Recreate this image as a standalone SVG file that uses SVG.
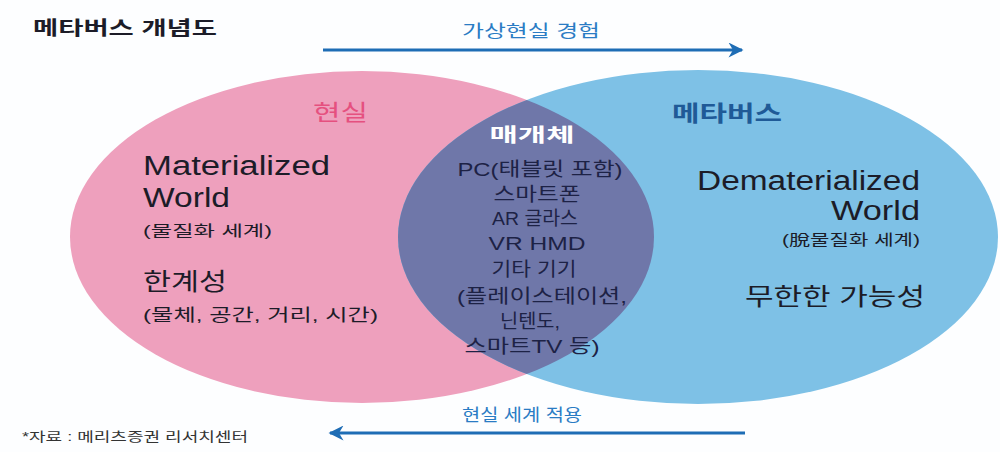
<svg xmlns="http://www.w3.org/2000/svg" width="1000" height="452" viewBox="0 0 1000 452">
<defs>
<style>
text{font-family:"Liberation Sans","Noto Sans CJK KR",sans-serif}
.t{font-weight:bold}
.blue{fill:#2a7cc4}
.dk{fill:#1c1c28}
.nv{fill:#1d2245}
.mid{font-size:19px;text-anchor:middle}
</style>
<marker id="ah" viewBox="0 0 10 10" refX="9" refY="5" markerWidth="7" markerHeight="5" markerUnits="strokeWidth" orient="auto">
<path d="M0,0 L10,5 L0,10 L3,5 Z" fill="#1e6db5"/>
</marker>
<clipPath id="pinkClip"><ellipse cx="362" cy="237" rx="292" ry="166"/></clipPath>
</defs>
<rect width="1000" height="452" fill="#fdfeff"/>
<text x="33" y="35" class="t dk" font-size="19" textLength="184" lengthAdjust="spacingAndGlyphs">메타버스 개념도</text>

<g id="real">
<ellipse cx="362" cy="237" rx="292" ry="166" fill="#eea0bd"/>
</g>
<g id="metaverse">
<ellipse cx="698" cy="237" rx="300" ry="167" fill="#7ec1e6"/>
</g>
<g id="medium">
<ellipse cx="698" cy="237" rx="300" ry="167" fill="#6f77a9" clip-path="url(#pinkClip)"/>
</g>

<g id="connectors" stroke="#1e6db5" stroke-width="3" fill="none">
<line x1="323" y1="50" x2="742" y2="50" marker-end="url(#ah)"/>
<line x1="745" y1="433" x2="330" y2="433" marker-end="url(#ah)"/>
</g>
<text x="462" y="37" class="blue" font-size="17" textLength="138" lengthAdjust="spacingAndGlyphs">가상현실 경험</text>
<text x="462" y="421" class="blue" font-size="17" textLength="120" lengthAdjust="spacingAndGlyphs">현실 세계 적용</text>

<g id="real-text">
<text x="313" y="120" font-size="22" fill="#e5507f" textLength="55" lengthAdjust="spacingAndGlyphs">현실</text>
<text x="143" y="175" class="dk" font-size="27" textLength="187" lengthAdjust="spacingAndGlyphs">Materialized</text>
<text x="143" y="207" class="dk" font-size="27" textLength="87" lengthAdjust="spacingAndGlyphs">World</text>
<text x="143" y="236" class="dk" font-size="15" textLength="129" lengthAdjust="spacingAndGlyphs">(물질화 세계)</text>
<text x="143" y="290" class="dk" font-size="24" textLength="84" lengthAdjust="spacingAndGlyphs">한계성</text>
<text x="143" y="321" class="dk" font-size="17" textLength="235" lengthAdjust="spacingAndGlyphs">(물체, 공간, 거리, 시간)</text>
</g>

<g id="medium-text">
<text x="532" y="142" class="t mid" fill="#ffffff" font-size="22" textLength="85" lengthAdjust="spacingAndGlyphs">매개체</text>
<text x="540" y="176" class="mid nv" textLength="165" lengthAdjust="spacingAndGlyphs">PC(태블릿 포함)</text>
<text x="537" y="201" class="mid nv" textLength="87" lengthAdjust="spacingAndGlyphs">스마트폰</text>
<text x="535" y="225" class="mid nv" textLength="86" lengthAdjust="spacingAndGlyphs">AR 글라스</text>
<text x="537" y="250" class="mid nv" textLength="97" lengthAdjust="spacingAndGlyphs">VR HMD</text>
<text x="534" y="276" class="mid nv" textLength="85" lengthAdjust="spacingAndGlyphs">기타 기기</text>
<text x="542" y="303" class="mid nv" textLength="170" lengthAdjust="spacingAndGlyphs">(플레이스테이션,</text>
<text x="530" y="328" class="mid nv" textLength="60" lengthAdjust="spacingAndGlyphs">닌텐도,</text>
<text x="532" y="353" class="mid nv" textLength="135" lengthAdjust="spacingAndGlyphs">스마트TV 등)</text>
</g>

<g id="metaverse-text">
<text x="672" y="121" class="t" fill="#1f5a97" font-size="22" textLength="110" lengthAdjust="spacingAndGlyphs">메타버스</text>
<text x="697" y="190" class="dk" font-size="27" textLength="223" lengthAdjust="spacingAndGlyphs">Dematerialized</text>
<text x="831" y="220" class="dk" font-size="27" textLength="89" lengthAdjust="spacingAndGlyphs">World</text>
<text x="782" y="245" class="dk" font-size="15" textLength="138" lengthAdjust="spacingAndGlyphs">(脫물질화 세계)</text>
<text x="745" y="305" class="dk" font-size="24" textLength="180" lengthAdjust="spacingAndGlyphs">무한한 가능성</text>
</g>

<text x="22" y="441" font-size="13" fill="#333333" textLength="226" lengthAdjust="spacingAndGlyphs">*자료 : 메리츠증권 리서치센터</text>
</svg>
